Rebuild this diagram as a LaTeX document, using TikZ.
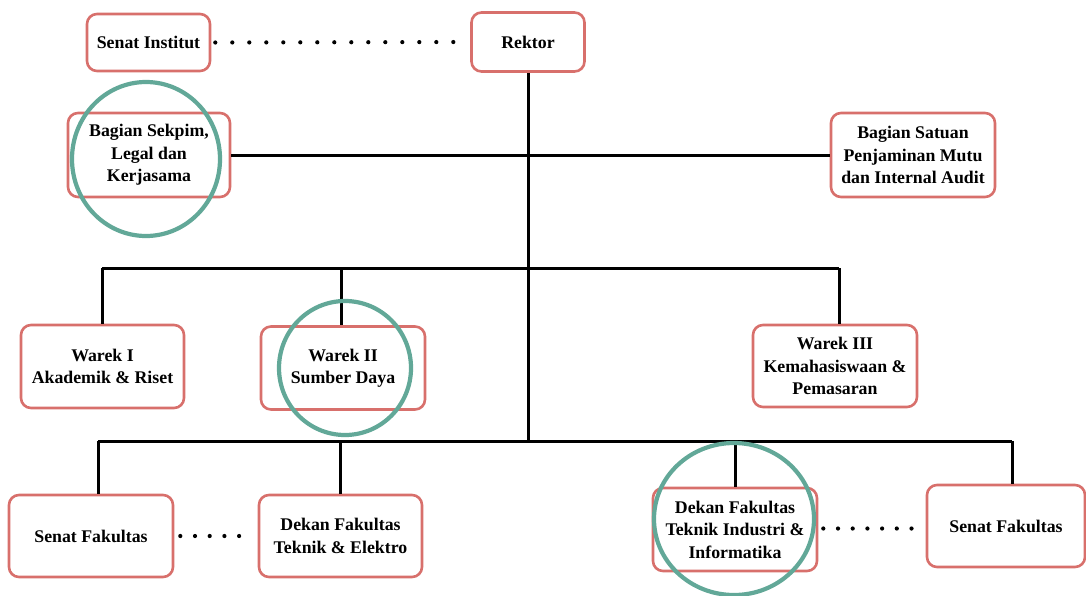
\documentclass[tikz,border=0pt]{standalone}
\usepackage{fontspec}
\setmainfont{Liberation Serif}
\usetikzlibrary{calc}
\definecolor{boxred}{HTML}{D8706C}
\definecolor{ringteal}{HTML}{62A898}
\tikzset{
  orgbox/.style={draw=boxred, line width=2.6pt, rounded corners=10pt, fill=white,
    align=center, inner sep=0pt, font=\bfseries\fontsize{17.8}{22.5}\selectfont},
  link/.style={line width=3pt, black},
  dotlink/.style={line width=4.2pt, line cap=round, dash pattern=on 0pt off #1},
  dotlink/.default=17pt,
  ring/.style={draw=ringteal, line width=4.2pt}
}
\begin{document}
\begin{tikzpicture}[x=1pt,y=-1pt]
\useasboundingbox (0,0) rectangle (1086,595);
\coordinate (rbot) at (528,441);
\coordinate (wbusL) at (102,268);
\coordinate (wbusR) at (839,268);
\coordinate (wbusM) at (341,268);
\coordinate (fbusL) at (98,441);
\coordinate (fbusR) at (1012,441);
\coordinate (fbusA) at (340,441);
\coordinate (fbusB) at (735,441);

\node[orgbox, minimum width=123pt, minimum height=57pt] (si) at (148.5,42.5) {Senat Institut};
\node[orgbox, minimum width=113pt, minimum height=59pt] (rek) at (528,42) {Rektor};
\node[orgbox, minimum width=162pt, minimum height=84pt] (sek) at (149,155) {Bagian Sekpim,\\Legal dan\\Kerjasama};
\node[orgbox, minimum width=164pt, minimum height=84pt] (spm) at (913,155) {Bagian Satuan\\Penjaminan Mutu\\dan Internal Audit};
\node[orgbox, minimum width=163pt, minimum height=83pt] (w1) at (102.5,366.5) {Warek I\\Akademik \& Riset};
\node[orgbox, minimum width=164pt, minimum height=83pt] (w2) at (343,368) {Warek II\\Sumber Daya};
\node[orgbox, minimum width=164pt, minimum height=82pt] (w3) at (835,366) {Warek III\\Kemahasiswaan \&\\Pemasaran};
\node[orgbox, minimum width=164pt, minimum height=82pt] (sf1) at (91,536) {Senat Fakultas};
\node[orgbox, minimum width=163pt, minimum height=82pt] (dte) at (340.5,536) {Dekan Fakultas\\Teknik \& Elektro};
\node[orgbox, minimum width=164pt, minimum height=83pt] (dti) at (735,529.5) {Dekan Fakultas\\Teknik Industri \&\\Informatika};
\node[orgbox, minimum width=158pt, minimum height=82pt] (sf2) at (1006,526) {Senat Fakultas};

% solid connectors
\draw[link] (rek.south) -- (rbot);
\draw[link] (sek.east) -- (spm.west);
\draw[link] (wbusL) -- (wbusR);
\draw[link] (wbusL) -- (wbusL |- w1.north);
\draw[link] (wbusM) -- (wbusM |- w2.north);
\draw[link] (wbusR) -- (wbusR |- w3.north);
\draw[link] (fbusL) -- (fbusR);
\draw[link] (fbusL) -- (fbusL |- sf1.north);
\draw[link] (fbusA) -- (fbusA |- dte.north);
\draw[link] (fbusB) -- (fbusB |- dti.north);
\draw[link] (fbusR) -- (fbusR |- sf2.north);

% dotted connectors
\draw[dotlink] ($(si.east)+(4,0)$) -- ($(rek.west)+(-2,0)$);
\draw[dotlink=14.7pt] ($(sf1.east)+(6,0)$) -- ($(dte.west)+(-6,0)$);
\draw[dotlink=14.7pt] ($(dti.east)+(5,-1)$) -- ($(dti.east -| sf2.west)+(-5,-1)$);

% highlight rings
\draw[ring] (146,159) ellipse [x radius=74pt, y radius=77pt];
\draw[ring] (345,368) ellipse [x radius=66pt, y radius=67pt];
\draw[ring] (734,519) ellipse [x radius=80pt, y radius=76pt];
\end{tikzpicture}
\end{document}
